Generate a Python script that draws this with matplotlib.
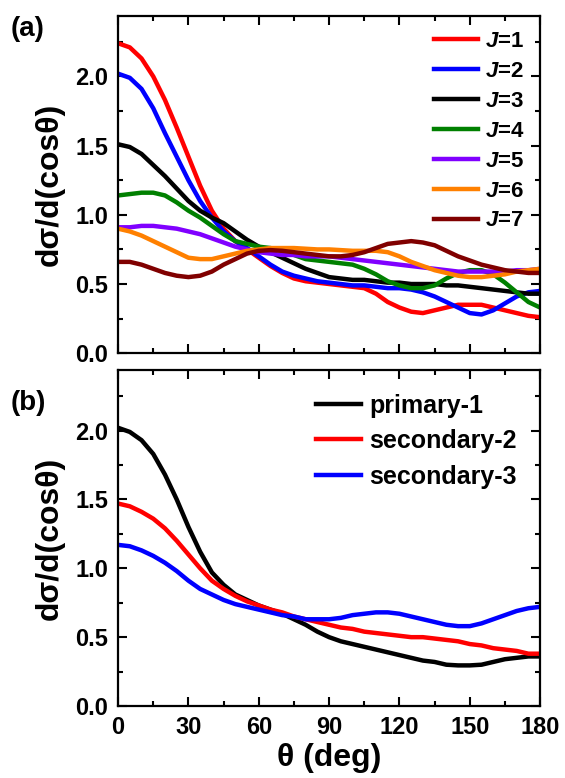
import matplotlib
matplotlib.use("Agg")
import matplotlib.pyplot as plt
from matplotlib.ticker import MultipleLocator, FormatStrFormatter

plt.rcParams['font.family'] = ['Liberation Sans', 'DejaVu Sans']
plt.rcParams['font.weight'] = 'bold'
plt.rcParams['mathtext.fontset'] = 'custom'
plt.rcParams['mathtext.it'] = 'Liberation Sans:italic:bold'
plt.rcParams['mathtext.rm'] = 'Liberation Sans:bold'

theta = list(range(0, 181, 5))

# panel (a): J = 1..7
j1 = [2.24, 2.21, 2.13, 2.00, 1.83, 1.63, 1.42, 1.21, 1.03, 0.90, 0.81, 0.75, 0.69,
      0.63, 0.58, 0.54, 0.52, 0.51, 0.50, 0.49, 0.48, 0.47, 0.43, 0.37, 0.33, 0.30,
      0.29, 0.31, 0.33, 0.35, 0.35, 0.35, 0.33, 0.31, 0.29, 0.27, 0.26]
j2 = [2.02, 1.99, 1.91, 1.77, 1.59, 1.42, 1.25, 1.10, 0.98, 0.88, 0.81, 0.76, 0.70,
      0.64, 0.59, 0.56, 0.54, 0.52, 0.51, 0.50, 0.49, 0.49, 0.48, 0.47, 0.47, 0.46,
      0.44, 0.41, 0.37, 0.33, 0.29, 0.28, 0.31, 0.36, 0.41, 0.44, 0.45]
j3 = [1.51, 1.49, 1.44, 1.36, 1.28, 1.19, 1.10, 1.03, 0.98, 0.94, 0.88, 0.82, 0.77,
      0.73, 0.69, 0.65, 0.61, 0.58, 0.55, 0.54, 0.53, 0.53, 0.52, 0.51, 0.51, 0.50,
      0.50, 0.50, 0.49, 0.49, 0.48, 0.47, 0.46, 0.45, 0.44, 0.43, 0.43]
j4 = [1.14, 1.15, 1.16, 1.16, 1.14, 1.09, 1.03, 0.98, 0.92, 0.86, 0.81, 0.79, 0.77,
      0.76, 0.74, 0.71, 0.68, 0.67, 0.66, 0.65, 0.64, 0.61, 0.57, 0.52, 0.49, 0.47,
      0.47, 0.49, 0.54, 0.58, 0.60, 0.60, 0.57, 0.51, 0.44, 0.37, 0.33]
j5 = [0.91, 0.91, 0.92, 0.92, 0.91, 0.90, 0.88, 0.86, 0.83, 0.80, 0.77, 0.75, 0.73,
      0.72, 0.71, 0.71, 0.70, 0.70, 0.70, 0.69, 0.68, 0.67, 0.66, 0.65, 0.64, 0.63,
      0.62, 0.61, 0.60, 0.59, 0.59, 0.59, 0.59, 0.59, 0.60, 0.60, 0.61]
j6 = [0.90, 0.88, 0.85, 0.81, 0.77, 0.73, 0.69, 0.68, 0.68, 0.70, 0.72, 0.74, 0.75,
      0.76, 0.76, 0.76, 0.755, 0.75, 0.75, 0.745, 0.74, 0.74, 0.74, 0.73, 0.70, 0.66,
      0.63, 0.60, 0.58, 0.56, 0.55, 0.55, 0.56, 0.57, 0.59, 0.60, 0.61]
j7 = [0.66, 0.66, 0.64, 0.61, 0.58, 0.56, 0.55, 0.56, 0.59, 0.64, 0.68, 0.72, 0.74,
      0.745, 0.74, 0.73, 0.72, 0.71, 0.70, 0.70, 0.71, 0.73, 0.76, 0.79, 0.80, 0.81,
      0.80, 0.78, 0.74, 0.70, 0.67, 0.64, 0.62, 0.60, 0.59, 0.58, 0.58]

# panel (b)
primary1 = [2.02, 1.99, 1.93, 1.83, 1.68, 1.50, 1.30, 1.12, 0.97, 0.88, 0.81, 0.77,
            0.73, 0.70, 0.67, 0.63, 0.59, 0.54, 0.50, 0.47, 0.45, 0.43, 0.41, 0.39,
            0.37, 0.35, 0.33, 0.32, 0.30, 0.295, 0.295, 0.30, 0.32, 0.34, 0.35, 0.36, 0.36]
secondary2 = [1.47, 1.45, 1.41, 1.36, 1.29, 1.20, 1.10, 1.00, 0.91, 0.85, 0.80, 0.76,
              0.73, 0.70, 0.68, 0.65, 0.63, 0.61, 0.59, 0.57, 0.56, 0.54, 0.53, 0.52,
              0.51, 0.50, 0.50, 0.49, 0.48, 0.47, 0.45, 0.44, 0.42, 0.41, 0.40, 0.38, 0.38]
secondary3 = [1.17, 1.16, 1.13, 1.09, 1.04, 0.98, 0.91, 0.85, 0.81, 0.77, 0.74, 0.72,
              0.70, 0.68, 0.66, 0.65, 0.63, 0.63, 0.63, 0.64, 0.66, 0.67, 0.68, 0.68,
              0.67, 0.65, 0.63, 0.61, 0.59, 0.58, 0.58, 0.60, 0.63, 0.66, 0.69, 0.71, 0.72]

labels_a = ['$J$=1', '$J$=2', '$J$=3', '$J$=4', '$J$=5', '$J$=6', '$J$=7']
colors_a = ['#ff0000', '#0000ff', '#000000', '#008000', '#8000ff', '#ff8000', '#800000']
labels_b = ['primary-1', 'secondary-2', 'secondary-3']
colors_b = ['#000000', '#ff0000', '#0000ff']

fig = plt.figure(figsize=(5.65, 7.78), dpi=100)
ax1 = fig.add_axes([0.209, 0.546, 0.747, 0.434])
ax2 = fig.add_axes([0.209, 0.0925, 0.747, 0.432])

for ys, c, lab in zip([j1, j2, j3, j4, j5, j6, j7], colors_a, labels_a):
    ax1.plot(theta, ys, color=c, lw=3.2, label=lab)
for ys, c, lab in zip([primary1, secondary2, secondary3], colors_b, labels_b):
    ax2.plot(theta, ys, color=c, lw=3.2, label=lab)

for ax in (ax1, ax2):
    ax.set_xlim(0, 180)
    ax.set_ylim(0, 2.44)
    ax.xaxis.set_major_locator(MultipleLocator(30))
    ax.xaxis.set_minor_locator(MultipleLocator(15))
    ax.yaxis.set_major_locator(MultipleLocator(0.5))
    ax.yaxis.set_minor_locator(MultipleLocator(0.25))
    ax.tick_params(which='both', direction='in', top=True, right=True, width=1.5,
                   labelsize=17)
    ax.tick_params(which='major', length=6.5, pad=7)
    ax.tick_params(which='minor', length=3.5)
    for s in ax.spines.values():
        s.set_linewidth(1.6)
    ax.yaxis.set_major_formatter(FormatStrFormatter('%.1f'))
    ax.set_ylabel('dσ/d(cosθ)', fontsize=23, fontweight='bold', labelpad=8)

ax1.tick_params(labelbottom=False)
ax2.set_xlabel('θ (deg)', fontsize=23, fontweight='bold', labelpad=3)

ax1.legend(loc='upper right', frameon=False, fontsize=16, handlelength=2.0,
           labelspacing=0.40, handletextpad=0.3, borderaxespad=0.3)
ax2.legend(loc='upper right', frameon=False, fontsize=18, handlelength=1.8,
           labelspacing=0.46, handletextpad=0.3, borderaxespad=0.55)

fig.text(0.018, 0.980, '(a)', fontsize=20, fontweight='bold', va='top')
fig.text(0.018, 0.499, '(b)', fontsize=20, fontweight='bold', va='top')

fig.savefig('out.png', dpi=100)
